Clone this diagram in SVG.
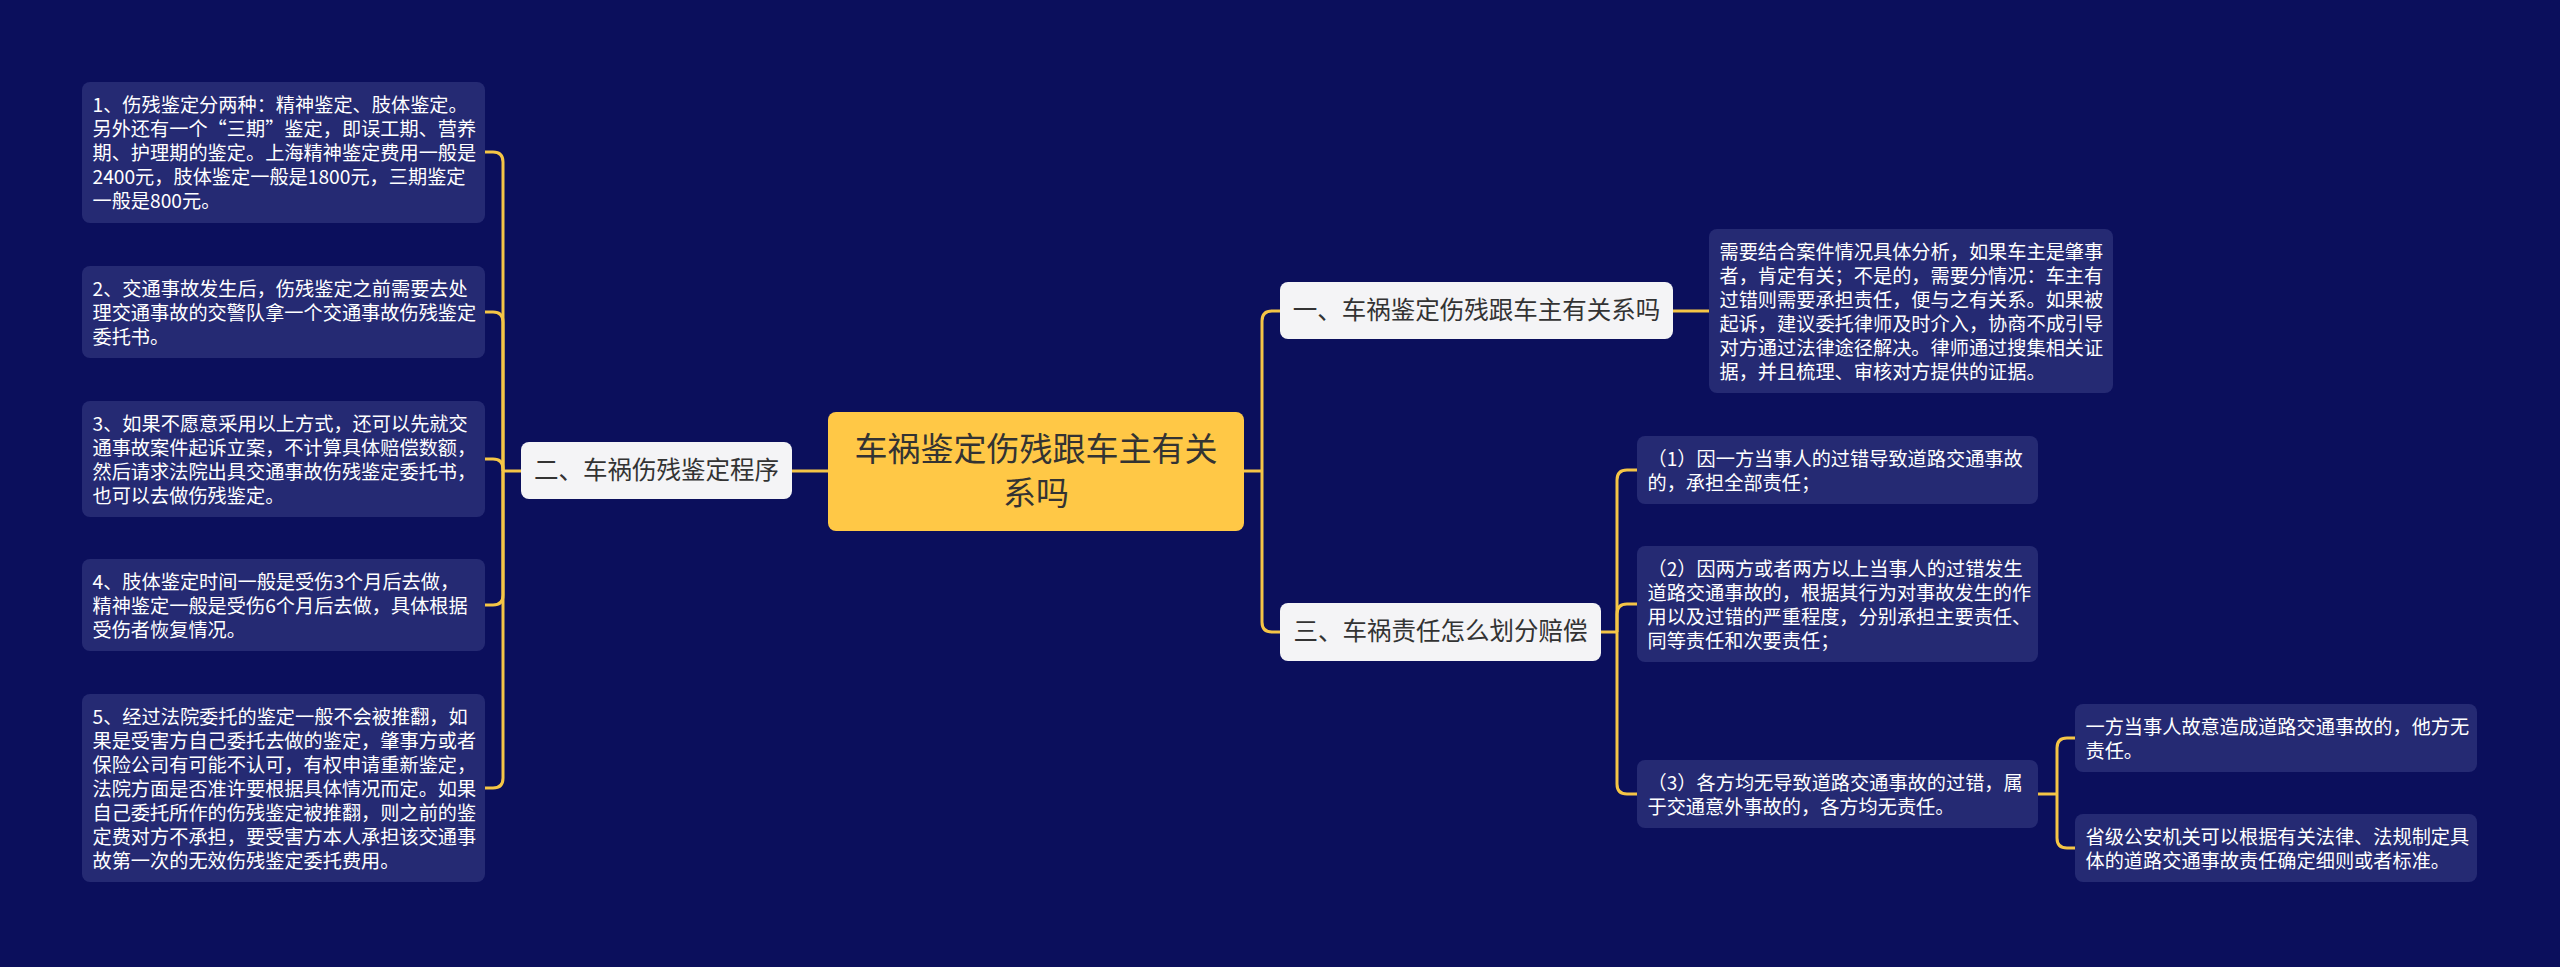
<svg xmlns="http://www.w3.org/2000/svg" width="2560" height="967" viewBox="0 0 2560 967">
<style>
.bg{fill:#0B0F5C}
.d{fill:#252A73}
.d text,.dt{font-family:"Noto Sans CJK SC","Noto Sans",sans-serif;font-size:19.2px;fill:#FFFFFF}
.l1{fill:#F4F4F6}
.l1t{font-family:"Noto Sans CJK SC","Noto Sans",sans-serif;font-size:24.5px;fill:#333333;text-anchor:middle}
.ct{font-family:"Noto Sans CJK SC","Noto Sans",sans-serif;font-size:33px;fill:#333333;text-anchor:middle}
.c{fill:none;stroke:#F5C546;stroke-width:3}
</style>
<rect class="bg" x="0" y="0" width="2560" height="967"/>
<g id="connectors">
<path class="c" d="M792 471 H828"/>
<path class="c" d="M521 471 H503"/>
<path class="c" d="M503 471 V162 Q503 152 493 152 H485"/>
<path class="c" d="M503 471 V322 Q503 312 493 312 H485"/>
<path class="c" d="M503 471 V469 Q503 459 493 459 H485"/>
<path class="c" d="M503 471 V595 Q503 605 493 605 H485"/>
<path class="c" d="M503 471 V778 Q503 788 493 788 H485"/>
<path class="c" d="M1244 471 H1262"/>
<path class="c" d="M1262 471 V321 Q1262 311 1272 311 H1280"/>
<path class="c" d="M1262 471 V622 Q1262 632 1272 632 H1280"/>
<path class="c" d="M1673 311 H1709"/>
<path class="c" d="M1601 632 H1617"/>
<path class="c" d="M1617 632 V480 Q1617 470 1627 470 H1637"/>
<path class="c" d="M1617 632 V614 Q1617 604 1627 604 H1637"/>
<path class="c" d="M1617 632 V784 Q1617 794 1627 794 H1637"/>
<path class="c" d="M2038 794 H2057"/>
<path class="c" d="M2057 794 V748 Q2057 738 2067 738 H2075"/>
<path class="c" d="M2057 794 V838 Q2057 848 2067 848 H2075"/>
</g>
<g id="center">
<rect x="828" y="412" width="416" height="119" rx="8" fill="#FFC846"/>
<text class="ct" x="1036" y="461">车祸鉴定伤残跟车主有关</text>
<text class="ct" x="1036" y="505">系吗</text>
</g>
<g id="n2">
<rect class="l1" x="521" y="442" width="271" height="57" rx="8"/>
<text class="l1t" x="656.5" y="479">二、车祸伤残鉴定程序</text>
</g>
<g id="n1">
<rect class="l1" x="1280" y="282" width="393" height="57" rx="8"/>
<text class="l1t" x="1476.5" y="319">一、车祸鉴定伤残跟车主有关系吗</text>
</g>
<g id="n3">
<rect class="l1" x="1280" y="603" width="321" height="58" rx="8"/>
<text class="l1t" x="1440.5" y="640">三、车祸责任怎么划分赔偿</text>
</g>
<g id="L1" class="d">
<rect x="82" y="82" width="403" height="141" rx="8"/>
<text x="92.5" y="111.5">1、伤残鉴定分两种：精神鉴定、肢体鉴定。</text>
<text x="92.5" y="135.5">另外还有一个“三期”鉴定，即误工期、营养</text>
<text x="92.5" y="159.5">期、护理期的鉴定。上海精神鉴定费用一般是</text>
<text x="92.5" y="183.5">2400元，肢体鉴定一般是1800元，三期鉴定</text>
<text x="92.5" y="207.5">一般是800元。</text>
</g>
<g id="L2" class="d">
<rect x="82" y="266" width="403" height="92" rx="8"/>
<text x="92.5" y="295.5">2、交通事故发生后，伤残鉴定之前需要去处</text>
<text x="92.5" y="319.5">理交通事故的交警队拿一个交通事故伤残鉴定</text>
<text x="92.5" y="343.5">委托书。</text>
</g>
<g id="L3" class="d">
<rect x="82" y="401" width="403" height="116" rx="8"/>
<text x="92.5" y="430.5">3、如果不愿意采用以上方式，还可以先就交</text>
<text x="92.5" y="454.5">通事故案件起诉立案，不计算具体赔偿数额，</text>
<text x="92.5" y="478.5">然后请求法院出具交通事故伤残鉴定委托书，</text>
<text x="92.5" y="502.5">也可以去做伤残鉴定。</text>
</g>
<g id="L4" class="d">
<rect x="82" y="559" width="403" height="92" rx="8"/>
<text x="92.5" y="588.5">4、肢体鉴定时间一般是受伤3个月后去做，</text>
<text x="92.5" y="612.5">精神鉴定一般是受伤6个月后去做，具体根据</text>
<text x="92.5" y="636.5">受伤者恢复情况。</text>
</g>
<g id="L5" class="d">
<rect x="82" y="694" width="403" height="188" rx="8"/>
<text x="92.5" y="723.5">5、经过法院委托的鉴定一般不会被推翻，如</text>
<text x="92.5" y="747.5">果是受害方自己委托去做的鉴定，肇事方或者</text>
<text x="92.5" y="771.5">保险公司有可能不认可，有权申请重新鉴定，</text>
<text x="92.5" y="795.5">法院方面是否准许要根据具体情况而定。如果</text>
<text x="92.5" y="819.5">自己委托所作的伤残鉴定被推翻，则之前的鉴</text>
<text x="92.5" y="843.5">定费对方不承担，要受害方本人承担该交通事</text>
<text x="92.5" y="867.5">故第一次的无效伤残鉴定委托费用。</text>
</g>
<g id="D1" class="d">
<rect x="1709" y="229" width="404" height="164" rx="8"/>
<text x="1719.5" y="258.5">需要结合案件情况具体分析，如果车主是肇事</text>
<text x="1719.5" y="282.5">者，肯定有关；不是的，需要分情况：车主有</text>
<text x="1719.5" y="306.5">过错则需要承担责任，便与之有关系。如果被</text>
<text x="1719.5" y="330.5">起诉，建议委托律师及时介入，协商不成引导</text>
<text x="1719.5" y="354.5">对方通过法律途径解决。律师通过搜集相关证</text>
<text x="1719.5" y="378.5">据，并且梳理、审核对方提供的证据。</text>
</g>
<g id="R1" class="d">
<rect x="1637" y="436" width="401" height="68" rx="8"/>
<text x="1647.5" y="465.5">（1）因一方当事人的过错导致道路交通事故</text>
<text x="1647.5" y="489.5">的，承担全部责任；</text>
</g>
<g id="R2" class="d">
<rect x="1637" y="546" width="401" height="116" rx="8"/>
<text x="1647.5" y="575.5">（2）因两方或者两方以上当事人的过错发生</text>
<text x="1647.5" y="599.5">道路交通事故的，根据其行为对事故发生的作</text>
<text x="1647.5" y="623.5">用以及过错的严重程度，分别承担主要责任、</text>
<text x="1647.5" y="647.5">同等责任和次要责任；</text>
</g>
<g id="R3" class="d">
<rect x="1637" y="760" width="401" height="68" rx="8"/>
<text x="1647.5" y="789.5">（3）各方均无导致道路交通事故的过错，属</text>
<text x="1647.5" y="813.5">于交通意外事故的，各方均无责任。</text>
</g>
<g id="S1" class="d">
<rect x="2075" y="704" width="402" height="68" rx="8"/>
<text x="2085.5" y="733.5">一方当事人故意造成道路交通事故的，他方无</text>
<text x="2085.5" y="757.5">责任。</text>
</g>
<g id="S2" class="d">
<rect x="2075" y="814" width="402" height="68" rx="8"/>
<text x="2085.5" y="843.5">省级公安机关可以根据有关法律、法规制定具</text>
<text x="2085.5" y="867.5">体的道路交通事故责任确定细则或者标准。</text>
</g>
</svg>
